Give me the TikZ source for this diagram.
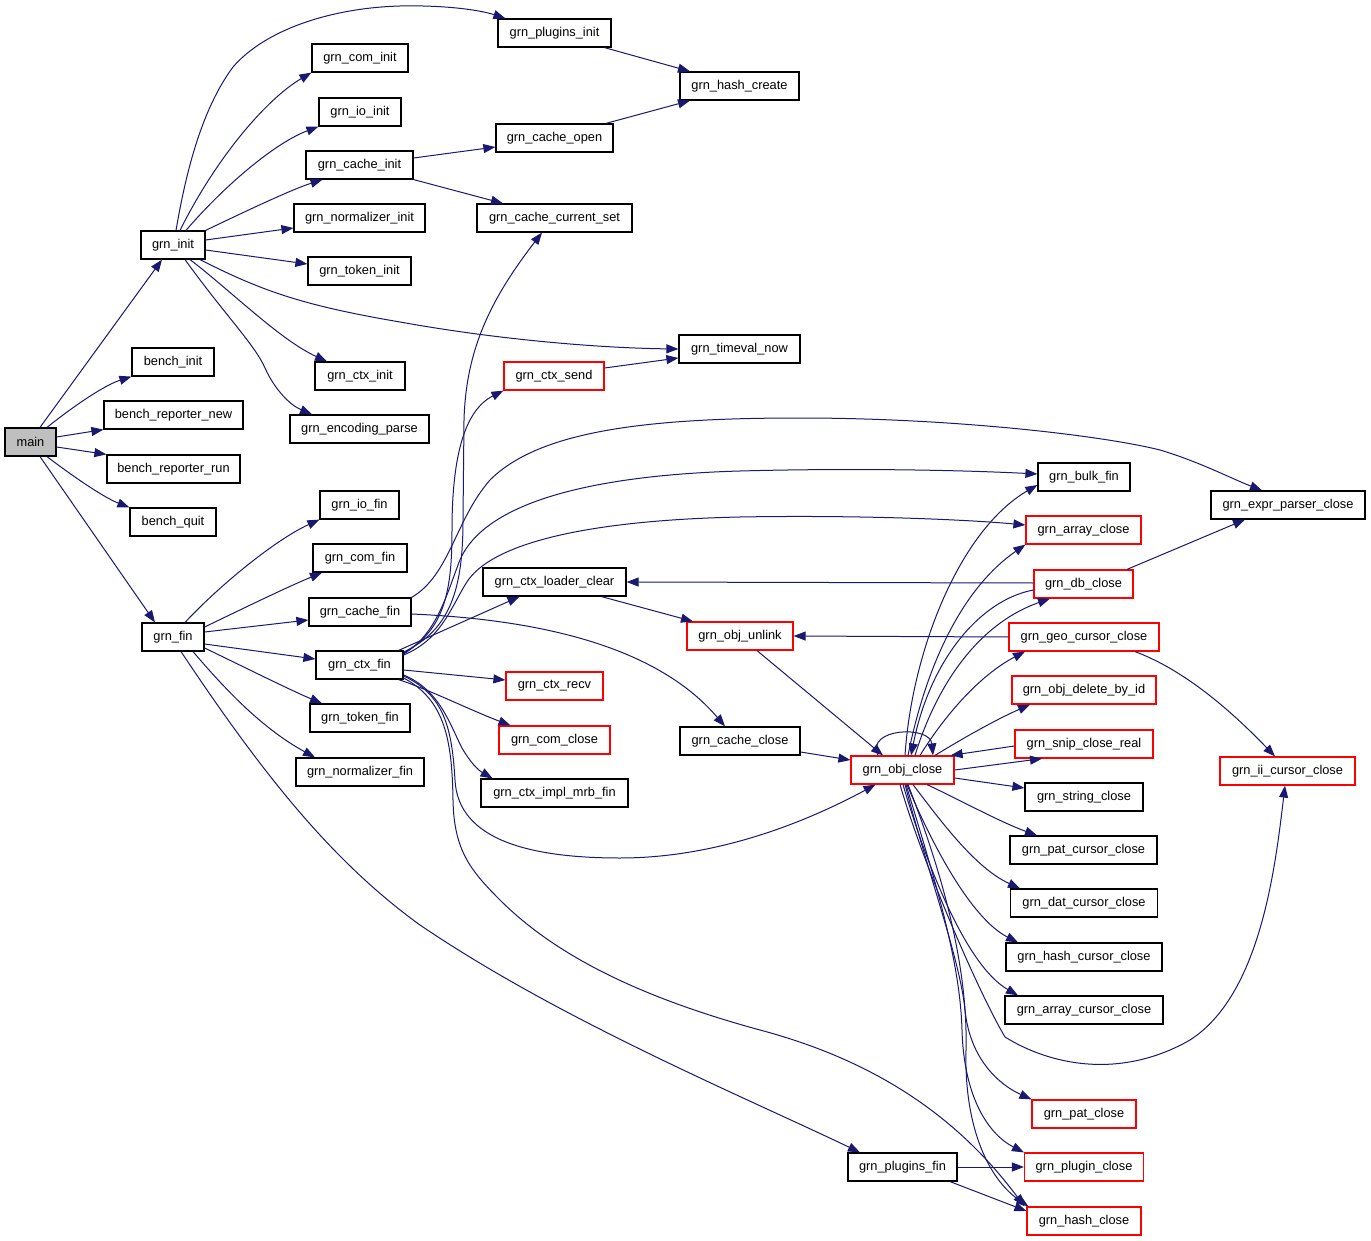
\documentclass[tikz,border=0pt]{standalone}
\usepackage{fontspec}
\setmainfont{Liberation Sans}
\usetikzlibrary{arrows.meta,calc}
\definecolor{edgec}{HTML}{191970}
\definecolor{mainfill}{HTML}{BFBFBF}
\definecolor{redc}{HTML}{FF0000}
\tikzset{
  nb/.style={draw=black, line width=1.2pt, rectangle, minimum height=28pt, inner sep=0pt, fill=white, font=\fontsize{12.8}{15}\selectfont},
  nr/.style={nb, draw=redc},
  e/.style={draw=edgec, line width=1pt, -{Triangle[length=12pt,width=9pt]}, fill=none}
}
\begin{document}
\begin{tikzpicture}[x=1pt,y=-1pt]
\fill[white] (0,0) rectangle (1371,1241);
\useasboundingbox (0,0) rectangle (1371,1241);
% nodes
\node[nb, minimum width=51pt, fill=mainfill] (main) at (30.5,442) {main};
\node[nb, minimum width=64pt] (grn_init) at (173,245) {grn\_init};
\node[nb, minimum width=82pt] (bench_init) at (173,362) {bench\_init};
\node[nb, minimum width=139pt] (bench_reporter_new) at (173.5,415) {bench\_reporter\_new};
\node[nb, minimum width=133pt] (bench_reporter_run) at (173.5,469) {bench\_reporter\_run};
\node[nb, minimum width=86pt] (bench_quit) at (173,522) {bench\_quit};
\node[nb, minimum width=62pt] (grn_fin) at (173,637) {grn\_fin};
\node[nb, minimum width=113pt] (grn_plugins_init) at (554.5,33) {grn\_plugins\_init};
\node[nb, minimum width=96pt] (grn_com_init) at (360,58) {grn\_com\_init};
\node[nb, minimum width=82pt] (grn_io_init) at (360,112) {grn\_io\_init};
\node[nb, minimum width=107pt] (grn_cache_init) at (359.5,165) {grn\_cache\_init};
\node[nb, minimum width=131pt] (grn_normalizer_init) at (359.5,218) {grn\_normalizer\_init};
\node[nb, minimum width=103pt] (grn_token_init) at (359.5,271) {grn\_token\_init};
\node[nb, minimum width=90pt] (grn_ctx_init) at (360,376) {grn\_ctx\_init};
\node[nb, minimum width=139pt] (grn_encoding_parse) at (359.5,429) {grn\_encoding\_parse};
\node[nb, minimum width=79pt] (grn_io_fin) at (359.5,505) {grn\_io\_fin};
\node[nb, minimum width=94pt] (grn_com_fin) at (360,558) {grn\_com\_fin};
\node[nb, minimum width=102pt] (grn_cache_fin) at (360,612) {grn\_cache\_fin};
\node[nb, minimum width=87pt] (grn_ctx_fin) at (359.5,665) {grn\_ctx\_fin};
\node[nb, minimum width=100pt] (grn_token_fin) at (360,718) {grn\_token\_fin};
\node[nb, minimum width=128pt] (grn_normalizer_fin) at (360,772) {grn\_normalizer\_fin};
\node[nb, minimum width=119pt] (grn_hash_create) at (739.5,86) {grn\_hash\_create};
\node[nb, minimum width=117pt] (grn_cache_open) at (554.5,138) {grn\_cache\_open};
\node[nb, minimum width=155pt] (grn_cache_current_set) at (554.5,218) {grn\_cache\_current\_set};
\node[nb, minimum width=121pt] (grn_timeval_now) at (739.5,349) {grn\_timeval\_now};
\node[nr, minimum width=100pt] (grn_ctx_send) at (554,376) {grn\_ctx\_send};
\node[nb, minimum width=143pt] (grn_ctx_loader_clear) at (554.5,582) {grn\_ctx\_loader\_clear};
\node[nr, minimum width=97pt] (grn_ctx_recv) at (554.5,686) {grn\_ctx\_recv};
\node[nr, minimum width=111pt] (grn_com_close) at (554.5,740) {grn\_com\_close};
\node[nb, minimum width=147pt] (grn_ctx_impl_mrb_fin) at (554.5,793) {grn\_ctx\_impl\_mrb\_fin};
\node[nr, minimum width=106pt] (grn_obj_unlink) at (740,636) {grn\_obj\_unlink};
\node[nb, minimum width=120pt] (grn_cache_close) at (740,741) {grn\_cache\_close};
\node[nr, minimum width=103pt] (grn_obj_close) at (902.5,770) {grn\_obj\_close};
\node[nb, minimum width=109pt] (grn_plugins_fin) at (902.5,1167) {grn\_plugins\_fin};
\node[nb, minimum width=92pt] (grn_bulk_fin) at (1084,477) {grn\_bulk\_fin};
\node[nr, minimum width=115pt] (grn_array_close) at (1083.5,530) {grn\_array\_close};
\node[nr, minimum width=99pt] (grn_db_close) at (1083.5,584) {grn\_db\_close};
\node[nr, minimum width=150pt] (grn_geo_cursor_close) at (1084,637) {grn\_geo\_cursor\_close};
\node[nr, minimum width=144pt] (grn_obj_delete_by_id) at (1084,690) {grn\_obj\_delete\_by\_id};
\node[nr, minimum width=138pt] (grn_snip_close_real) at (1084,744) {grn\_snip\_close\_real};
\node[nb, minimum width=118pt] (grn_string_close) at (1084,797) {grn\_string\_close};
\node[nb, minimum width=147pt] (grn_pat_cursor_close) at (1083.5,850) {grn\_pat\_cursor\_close};
\node[nb, minimum width=147pt] (grn_dat_cursor_close) at (1084,903) {grn\_dat\_cursor\_close};
\node[nb, minimum width=156pt] (grn_hash_cursor_close) at (1084,957) {grn\_hash\_cursor\_close};
\node[nb, minimum width=158pt] (grn_array_cursor_close) at (1084,1010) {grn\_array\_cursor\_close};
\node[nr, minimum width=104pt] (grn_pat_close) at (1084,1114) {grn\_pat\_close};
\node[nr, minimum width=119pt] (grn_plugin_close) at (1084,1167) {grn\_plugin\_close};
\node[nr, minimum width=114pt] (grn_hash_close) at (1084,1221) {grn\_hash\_close};
\node[nb, minimum width=154pt] (grn_expr_parser_close) at (1288,505) {grn\_expr\_parser\_close};
\node[nr, minimum width=135pt] (grn_ii_cursor_close) at (1287.5,771) {grn\_ii\_cursor\_close};
% edges from main
\draw[e] ($(main.north)+(9.5,0)$) -- ($(grn_init.south)+(-11,0)$);
\draw[e] ($(main.north)+(16.5,0)$) .. controls (75,405) and (105,385) .. (bench_init.south west);
\draw[e] ($(main.east)+(0,-5)$) -- (bench_reporter_new.south west);
\draw[e] ($(main.east)+(0,5)$) -- (bench_reporter_run.north west);
\draw[e] ($(main.south)+(16.5,0)$) .. controls (75,478) and (105,498) .. (bench_quit.north west);
\draw[e] ($(main.south)+(9.5,0)$) -- ($(grn_fin.north)+(-18,0)$);
% grn_init
\draw[e] ($(grn_init.north)+(3,0)$) .. controls (188,160) and (205,105) .. (233,67) .. controls (265,30) and (330,8) .. (400,6) .. controls (445,5) and (480,10) .. ($(grn_plugins_init.north west)+(8,0)$);
\draw[e] ($(grn_init.north)+(7,0)$) .. controls (215,160) and (265,100) .. (grn_com_init.south west);
\draw[e] ($(grn_init.north)+(13,0)$) .. controls (225,185) and (275,143) .. (grn_io_init.south west);
\draw[e] (grn_init.north east) .. controls (240,214) and (290,190) .. ($(grn_cache_init.south)+(-37,0)$);
\draw[e] ($(grn_init.east)+(0,-5)$) -- ($(grn_normalizer_init.west)+(0,10)$);
\draw[e] ($(grn_init.east)+(0,5)$) -- ($(grn_token_init.west)+(0,-7)$);
\draw[e] ($(grn_init.south)+(27,0)$) .. controls (260,290) and (300,305) .. (400,322) .. controls (500,340) and (600,348) .. (grn_timeval_now.west);
\draw[e] ($(grn_init.south)+(17,0)$) .. controls (230,290) and (280,340) .. ($(grn_ctx_init.north)+(-33,0)$);
\draw[e] ($(grn_init.south)+(12,0)$) .. controls (225,315) and (255,345) .. (265,368) .. controls (275,390) and (290,405) .. ($(grn_encoding_parse.north)+(-47.5,0)$);
% second level
\draw[e] ($(grn_plugins_init.south)+(50,0)$) -- ($(grn_hash_create.north)+(-49.5,0)$);
\draw[e] ($(grn_cache_open.north)+(51.5,0)$) -- ($(grn_hash_create.south)+(-49.5,0)$);
\draw[e] ($(grn_cache_init.east)+(0,-7)$) -- ($(grn_cache_open.west)+(0,9)$);
\draw[e] (grn_cache_init.south east) -- ($(grn_cache_current_set.north)+(-51.5,0)$);
\draw[e] ($(grn_ctx_send.east)+(0,-8)$) -- ($(grn_timeval_now.west)+(0,9)$);
% grn_fin
\draw[e] ($(grn_fin.north)+(12,0)$) .. controls (220,585) and (275,540) .. (grn_io_fin.south west);
\draw[e] ($(grn_fin.east)+(0,-10)$) .. controls (240,610) and (285,588) .. ($(grn_com_fin.south)+(-38,0)$);
\draw[e] ($(grn_fin.east)+(0,-5)$) -- ($(grn_cache_fin.west)+(0,8)$);
\draw[e] ($(grn_fin.east)+(0,7)$) -- ($(grn_ctx_fin.west)+(0,-6)$);
\draw[e] ($(grn_fin.east)+(0,11)$) .. controls (240,665) and (290,690) .. ($(grn_token_fin.north)+(-38,0)$);
\draw[e] ($(grn_fin.south)+(20,0)$) .. controls (230,695) and (265,730) .. ($(grn_normalizer_fin.north)+(-45,0)$);
\draw[e] ($(grn_fin.south)+(8,0)$) .. controls (260,770) and (330,860) .. (420,925) .. controls (560,1020) and (740,1095) .. ($(grn_plugins_fin.north)+(-42.5,0)$);
% grn_cache_fin
\draw[e] ($(grn_cache_fin.east)+(0,2)$) .. controls (550,620) and (660,650) .. ($(grn_cache_close.north)+(-15,0)$);
\draw[e] (grn_cache_fin.north east) .. controls (450,575) and (455,520) .. (490,480) .. controls (540,430) and (650,418) .. (800,418) .. controls (950,418) and (1100,435) .. (1160,450) .. controls (1200,462) and (1230,478) .. ($(grn_expr_parser_close.north)+(-26,0)$);
% grn_ctx_fin
\draw[e] ($(grn_ctx_fin.east)+(0,-13)$) .. controls (450,630) and (463,590) .. (463,520) -- (464,420) .. controls (466,350) and (490,300) .. ($(grn_cache_current_set.south)+(-12.5,0)$);
\draw[e] ($(grn_ctx_fin.east)+(0,-12)$) .. controls (445,630) and (452,590) .. (452,530) .. controls (452,455) and (465,410) .. (grn_ctx_send.south west);
\draw[e] ($(grn_ctx_fin.east)+(0,-11)$) .. controls (435,635) and (445,600) .. (458,565) .. controls (480,500) and (600,475) .. (740,471) .. controls (850,468) and (960,470) .. ($(grn_bulk_fin.west)+(0,-3)$);
\draw[e] ($(grn_ctx_fin.east)+(0,-10)$) .. controls (440,640) and (450,610) .. (465,585) .. controls (490,540) and (600,520) .. (740,517) .. controls (850,515) and (960,519) .. ($(grn_array_close.west)+(0,-5)$);
\draw[e] ($(grn_ctx_fin.north east)+(-5,0)$) -- ($(grn_ctx_loader_clear.south)+(-35,0)$);
\draw[e] ($(grn_ctx_fin.east)+(0,5)$) -- ($(grn_ctx_recv.west)+(0,-6)$);
\draw[e] ($(grn_ctx_fin.south east)+(-5,0)$) .. controls (430,690) and (470,710) .. ($(grn_com_close.north)+(-44,0)$);
\draw[e] ($(grn_ctx_fin.east)+(0,10)$) .. controls (440,690) and (450,725) .. (462,748) .. controls (470,762) and (478,770) .. ($(grn_ctx_impl_mrb_fin.north)+(-62,0)$);
\draw[e] ($(grn_ctx_fin.east)+(0,11)$) .. controls (445,695) and (452,730) .. (455,780) .. controls (458,840) and (530,858) .. (620,858) .. controls (720,858) and (810,820) .. ($(grn_obj_close.south)+(-27,0)$);
\draw[e] ($(grn_ctx_fin.east)+(0,13)$) .. controls (445,700) and (452,740) .. (453,800) .. controls (454,850) and (470,870) .. (500,900) .. controls (560,960) and (650,1000) .. (760,1030) .. controls (880,1062) and (960,1120) .. ($(grn_hash_close.north west)+(-2,0)$);
% middle
\draw[e] ($(grn_cache_close.east)+(0,11)$) -- ($(grn_obj_close.west)+(0,-10)$);
\draw[e] ($(grn_obj_unlink.south)+(17,0)$) -- ($(grn_obj_close.north)+(-19.5,0)$);
\draw[e] ($(grn_ctx_loader_clear.south)+(47,0)$) -- ($(grn_obj_unlink.north)+(-47,0)$);
\draw[e] ($(grn_db_close.west)+(0,-1)$) -- (grn_ctx_loader_clear.east);
\draw[e] (grn_geo_cursor_close.west) -- (grn_obj_unlink.east);
\draw[e] ($(grn_db_close.north)+(43.5,0)$) -- ($(grn_expr_parser_close.south)+(-43,0)$);
\draw[e] ($(grn_geo_cursor_close.south)+(51,0)$) .. controls (1190,672) and (1240,720) .. ($(grn_ii_cursor_close.north)+(-12.5,0)$);
\draw[e] ($(grn_snip_close_real.west)+(0,2)$) -- ($(grn_obj_close.north east)+(-4,0)$);
% grn_obj_close
\draw[e] (grn_obj_close.east) -- ($(grn_snip_close_real.south)+(-42,0)$);
\draw[e] ($(grn_obj_close.east)+(0,8)$) -- ($(grn_string_close.west)+(0,-9)$);
\draw[e] ($(grn_obj_close.south)+(24.5,0)$) .. controls (960,800) and (1000,822) .. ($(grn_pat_cursor_close.north)+(-46.5,0)$);
\draw[e] ($(grn_obj_close.south)+(10.5,0)$) .. controls (940,820) and (975,868) .. ($(grn_dat_cursor_close.north)+(-64,0)$);
\draw[e] ($(grn_obj_close.south)+(4.5,0)$) .. controls (930,840) and (970,918) .. ($(grn_hash_cursor_close.north)+(-66,0)$);
\draw[e] ($(grn_obj_close.south)+(0.5,0)$) .. controls (925,860) and (965,965) .. ($(grn_array_cursor_close.north)+(-66,0)$);
\draw[e] ($(grn_obj_close.south)+(-2.5,0)$) .. controls (925,870) and (980,995) .. (1005,1037) .. controls (1050,1065) and (1120,1080) .. (1190,1040) .. controls (1260,995) and (1275,870) .. ($(grn_ii_cursor_close.south)+(-2.5,0)$);
\draw[e] ($(grn_obj_close.south)+(2.5,0)$) .. controls (930,880) and (960,960) .. (965,1010) .. controls (970,1060) and (1000,1085) .. (grn_pat_close.north west);
\draw[e] ($(grn_obj_close.south)+(3.5,0)$) .. controls (935,880) and (960,960) .. (962,1030) .. controls (964,1100) and (990,1135) .. (grn_plugin_close.north west);
\draw[e] ($(grn_obj_close.south)+(5.5,0)$) .. controls (945,880) and (968,970) .. (966,1050) .. controls (964,1130) and (990,1180) .. ($(grn_hash_close.north west)+(2,0)$);
\draw[e] ($(grn_obj_close.north)+(-24.5,0)$) .. controls (865,728) and (930,725) .. ($(grn_obj_close.north)+(30.5,0)$);
\draw[e] ($(grn_obj_close.north)+(2.5,0)$) .. controls (912,650) and (960,530) .. ($(grn_bulk_fin.west)+(0,8)$);
\draw[e] ($(grn_obj_close.north)+(5.5,0)$) .. controls (925,670) and (960,590) .. (grn_array_close.south west);
\draw[e] ($(grn_db_close.west)+(0,6)$) .. controls (980,600) and (930,660) .. ($(grn_obj_close.north)+(8.5,0)$);
\draw[e] ($(grn_obj_close.north)+(12.5,0)$) .. controls (935,690) and (975,625) .. ($(grn_db_close.south)+(-33.5,0)$);
\draw[e] ($(grn_obj_close.north)+(17.5,0)$) .. controls (945,715) and (980,675) .. ($(grn_geo_cursor_close.south)+(-59,0)$);
\draw[e] ($(grn_obj_close.north)+(32.5,0)$) .. controls (960,740) and (995,720) .. ($(grn_obj_delete_by_id.south)+(-54,0)$);
% plugins_fin
\draw[e] (grn_plugins_fin.east) -- (grn_plugin_close.west);
\draw[e] ($(grn_plugins_fin.south)+(47.5,0)$) -- ($(grn_hash_close.west)+(0,-10)$);
\end{tikzpicture}
\end{document}
